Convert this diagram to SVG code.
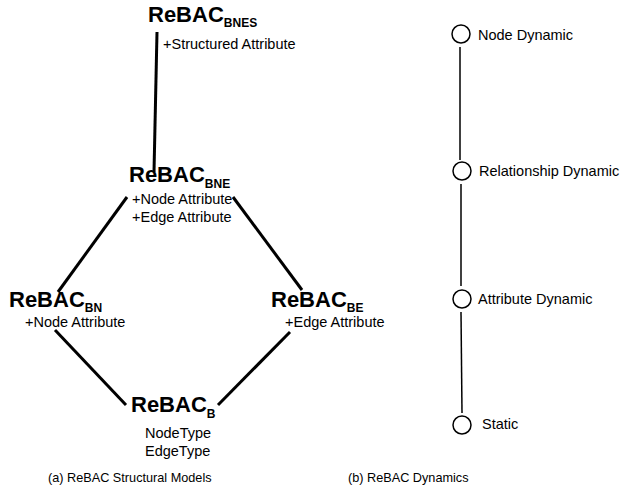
<svg xmlns="http://www.w3.org/2000/svg" width="621" height="498" viewBox="0 0 621 498">
<style>
text{font-family:"Liberation Sans",Arial,sans-serif;fill:#000}
.t{font-size:22px;font-weight:bold}
.s{font-size:12px;font-weight:bold}
.a{font-size:14.5px}
.c{font-size:14.5px}
.p{font-size:12.7px}
.e{stroke:#000;stroke-width:3;fill:none}
.d{stroke:#000;stroke-width:1.5;fill:none}
.n{stroke:#000;stroke-width:1.5;fill:#fff}
</style>
<rect width="621" height="498" fill="#fff"/>
<g id="connectors">
<line class="e" x1="157" y1="32" x2="154" y2="172"/>
<line class="e" x1="127" y1="197" x2="58" y2="292"/>
<line class="e" x1="233" y1="197" x2="302" y2="290"/>
<line class="e" x1="55" y1="330" x2="126" y2="405"/>
<line class="e" x1="290" y1="332" x2="218" y2="405"/>
<line class="d" x1="460" y1="47" x2="460" y2="160"/>
<line class="d" x1="461" y1="184" x2="461" y2="286"/>
<line class="d" x1="461" y1="312" x2="462" y2="413"/>
</g>
<g id="bnes">
<text class="t" x="148" y="22">ReBAC<tspan class="s" dy="5">BNES</tspan></text>
<text class="a" x="163" y="49">+Structured Attribute</text>
</g>
<g id="bne">
<text class="t" x="129" y="182">ReBAC<tspan class="s" dy="6">BNE</tspan></text>
<text class="a" x="132" y="204">+Node Attribute</text>
<text class="a" x="132" y="222">+Edge Attribute</text>
</g>
<g id="bn">
<text class="t" x="9" y="307">ReBAC<tspan class="s" dy="5">BN</tspan></text>
<text class="a" x="25" y="327">+Node Attribute</text>
</g>
<g id="be">
<text class="t" x="271" y="307">ReBAC<tspan class="s" dy="5">BE</tspan></text>
<text class="a" x="285" y="327">+Edge Attribute</text>
</g>
<g id="b">
<text class="t" x="131" y="412">ReBAC<tspan class="s" dy="6">B</tspan></text>
<text class="a" x="145" y="438">NodeType</text>
<text class="a" x="145" y="456">EdgeType</text>
</g>
<g id="node-dynamic">
<circle class="n" cx="461" cy="34" r="9"/>
<text class="c" x="478" y="40">Node Dynamic</text>
</g>
<g id="relationship-dynamic">
<circle class="n" cx="462" cy="171" r="9"/>
<text class="c" x="479" y="176">Relationship Dynamic</text>
</g>
<g id="attribute-dynamic">
<circle class="n" cx="462" cy="299" r="9"/>
<text class="c" x="478" y="304">Attribute Dynamic</text>
</g>
<g id="static">
<circle class="n" cx="462" cy="425" r="9"/>
<text class="c" x="482" y="429">Static</text>
</g>
<g id="captions">
<text class="p" x="48" y="482">(a) ReBAC Structural Models</text>
<text class="p" x="348" y="482">(b) ReBAC Dynamics</text>
</g>
</svg>
